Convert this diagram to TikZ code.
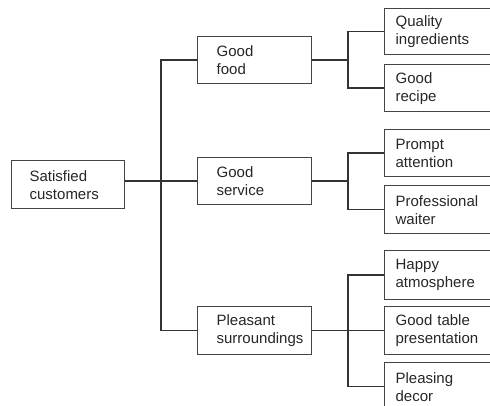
\documentclass[tikz,border=0pt]{standalone}
\usepackage{fontspec}
\setmainfont{Liberation Sans}
\definecolor{boxline}{HTML}{444444}
\definecolor{wire}{HTML}{333333}
\definecolor{ink}{HTML}{262626}
% two-line box text, both lines indented by #1
\newcommand\pairtext[3]{\hspace*{#1}#2\\\hspace*{#1}#3}
\begin{document}
\begin{tikzpicture}[x=1pt,y=-1pt,
  box/.style={draw=boxline, line width=1.3pt, rectangle, anchor=north west,
    inner xsep=0pt, inner ysep=2pt, align=left, text=ink,
    font=\fontsize{15}{18}\selectfont},
  rightbox/.style={box, text width=130pt, minimum height=#1},
  wires/.style={draw=wire, line width=1.5pt}]
\useasboundingbox (0,0) rectangle (490,406);
\clip (0,0) rectangle (490,406);

% root
\node[box, text width=113pt, minimum height=48pt] (sat) at (11,160)
  {\pairtext{18pt}{Satisfied}{customers}};

% second level
\node[box, text width=114pt, minimum height=47pt] (food) at (197,36)
  {\pairtext{19pt}{Good}{food}};
\node[box, text width=114pt, minimum height=47pt] (service) at (197,157)
  {\pairtext{19pt}{Good}{service}};
\node[box, text width=114pt, minimum height=48pt] (surr) at (197,306)
  {\pairtext{19pt}{Pleasant}{surroundings}};

% third level
\node[rightbox=46pt] (qual) at (384,8) {\pairtext{11pt}{Quality}{ingredients}};
\node[rightbox=47pt] (recipe) at (384,64) {\pairtext{11pt}{Good}{recipe}};
\node[rightbox=47pt] (prompt) at (384,129) {\pairtext{11pt}{Prompt}{attention}};
\node[rightbox=48pt] (prof) at (384,185) {\pairtext{11pt}{Professional}{waiter}};
\node[rightbox=49pt] (happy) at (384,250) {\pairtext{11pt}{Happy}{atmosphere}};
\node[rightbox=48pt] (table) at (384,306) {\pairtext{11pt}{Good table}{presentation}};
\node[rightbox=48pt] (decor) at (384,362) {\pairtext{11pt}{Pleasing}{decor}};

% trunk from the root
\coordinate (trunk) at (161,0);
\draw[wires] (service.west -| sat.east) -- (service.west);
\draw[wires] (food.west) -- (food.west -| trunk) |- (surr.west);

% branches to the third level
\coordinate (branch) at (348,0);
\draw[wires] (food.east) -- (food.east -| branch);
\draw[wires] (qual.west) -- (qual.west -| branch) |- (recipe.west);
\draw[wires] (service.east) -- (service.east -| branch);
\draw[wires] (prompt.west) -- (prompt.west -| branch) |- (prof.west);
\draw[wires] (surr.east) -- (table.west);
\draw[wires] (happy.west) -- (happy.west -| branch) |- (decor.west);
\end{tikzpicture}
\end{document}
